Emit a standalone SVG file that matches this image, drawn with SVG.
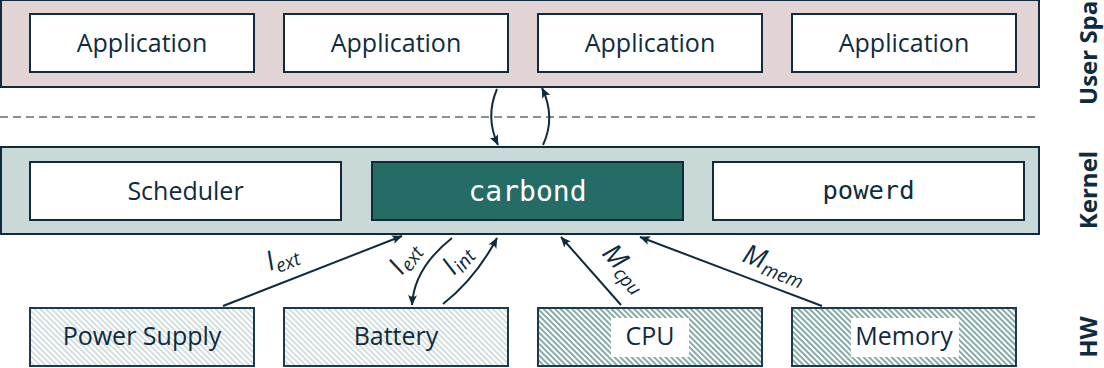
<svg xmlns="http://www.w3.org/2000/svg" width="1104" height="368" viewBox="0 0 1104 368">
<style>
.band{stroke:#0f2b3d;stroke-width:2}
.box{fill:#fff;stroke:#0f2b3d;stroke-width:2}
.hw{stroke:#1d3a4a;stroke-width:2}
.lbl{font-family:"Open Sans","Noto Sans",sans-serif;font-size:25px;fill:#0f2b3d;text-anchor:middle}
.mono{font-family:"DejaVu Sans Mono","Liberation Mono",monospace;text-anchor:middle}
.side{font-family:"Open Sans","Noto Sans",sans-serif;font-size:24px;font-weight:bold;fill:#0f2b3d}
.math{font-family:"Open Sans","Noto Sans",sans-serif;font-size:27px;font-style:italic;fill:#0f2b3d}
.sub{font-size:19px}
.conn{fill:none;stroke:#0f2b3d;stroke-width:2;marker-end:url(#arr)}
</style>
<defs>
<marker id="arr" viewBox="-11 -5 12 10" refX="0" refY="0" markerWidth="12" markerHeight="10" markerUnits="userSpaceOnUse" orient="auto">
<path d="M0.5,0 L-10,-4.5 Q-6.5,0 -10,4.5 Z" fill="#0f2b3d"/>
</marker>
<pattern id="hatchLight" patternUnits="userSpaceOnUse" width="4" height="8" patternTransform="rotate(-45)">
<rect width="4" height="8" fill="#fff"/>
<line x1="2" y1="0" x2="2" y2="8" stroke="#aec5c3" stroke-width="1.1"/>
</pattern>
<pattern id="hatchDark" patternUnits="userSpaceOnUse" width="4" height="8" patternTransform="rotate(-45)">
<rect width="4" height="8" fill="#fff"/>
<line x1="2" y1="0" x2="2" y2="8" stroke="#33736d" stroke-width="1.2"/>
</pattern>
</defs>

<g id="user-space">
<rect class="band" x="1" y="0" width="1038" height="87" fill="#e2d4d5"/>
</g>
<line id="separator" x1="0" y1="117" x2="1040" y2="117" stroke="#5c6e7a" stroke-width="1.5" stroke-dasharray="8 5"/>
<g id="kernel">
<rect class="band" x="1" y="147" width="1038" height="87" fill="#c9d9d8"/>
</g>

<g id="app1"><rect class="box" x="30" y="14" width="224" height="58"/><text class="lbl" x="142" y="52">Application</text></g>
<g id="app2"><rect class="box" x="284" y="14" width="224" height="58"/><text class="lbl" x="396" y="52">Application</text></g>
<g id="app3"><rect class="box" x="538" y="14" width="224" height="58"/><text class="lbl" x="650" y="52">Application</text></g>
<g id="app4"><rect class="box" x="792" y="14" width="224" height="58"/><text class="lbl" x="904" y="52">Application</text></g>

<g id="scheduler"><rect class="box" x="30" y="162" width="311" height="58"/><text class="lbl" x="185.5" y="200">Scheduler</text></g>
<g id="carbond"><rect x="372" y="162" width="311" height="58" fill="#256c67" stroke="#0f2b3d" stroke-width="2"/><text class="mono" x="527.5" y="201" font-size="28" fill="#fff">carbond</text></g>
<g id="powerd"><rect class="box" x="713" y="162" width="311" height="58"/><text class="mono" x="868.5" y="199" font-size="25.5" fill="#0f2b3d">powerd</text></g>

<g id="power-supply"><rect class="hw" x="30" y="308" width="224" height="58" fill="url(#hatchLight)"/><text class="lbl" x="142" y="345">Power Supply</text></g>
<g id="battery"><rect class="hw" x="284" y="308" width="224" height="58" fill="url(#hatchLight)"/><text class="lbl" x="396" y="345">Battery</text></g>
<g id="cpu"><rect class="hw" x="538" y="308" width="224" height="58" fill="url(#hatchDark)"/><rect x="611" y="318" width="78" height="39" fill="#fff"/><text class="lbl" x="650" y="345">CPU</text></g>
<g id="memory"><rect class="hw" x="792" y="308" width="224" height="58" fill="url(#hatchDark)"/><rect x="851" y="318" width="108" height="39" fill="#fff"/><text class="lbl" x="904" y="345">Memory</text></g>

<g id="connectors">
<path class="conn" d="M497,89 Q485,117 498,145"/>
<path class="conn" d="M543,145 Q556,117 542,88"/>
<path class="conn" d="M223,306 L402,236"/>
<path class="conn" d="M452,238 Q414,268 412,305"/>
<path class="conn" d="M443,304 Q476,278 497,238"/>
<path class="conn" d="M621,305 L561,237"/>
<path class="conn" d="M822,306 L640,237"/>
<text class="math" transform="translate(270,271) rotate(-21.6)">I<tspan class="sub" dy="5">ext</tspan></text>
<text class="math" transform="translate(402,276) rotate(-55)">I<tspan class="sub" dy="5">ext</tspan></text>
<text class="math" transform="translate(454,276) rotate(-50)">I<tspan class="sub" dy="5">int</tspan></text>
<text class="math" transform="translate(601,254) rotate(48)">M<tspan class="sub" dy="5">cpu</tspan></text>
<text class="math" transform="translate(741,261) rotate(21)">M<tspan class="sub" dy="5">mem</tspan></text>
</g>

<g id="layer-labels">
<text class="side" transform="translate(1097,105) rotate(-90)">User Space</text>
<text class="side" transform="translate(1097,190) rotate(-90)" text-anchor="middle">Kernel</text>
<text class="side" transform="translate(1097,337) rotate(-90)" text-anchor="middle">HW</text>
</g>
</svg>
